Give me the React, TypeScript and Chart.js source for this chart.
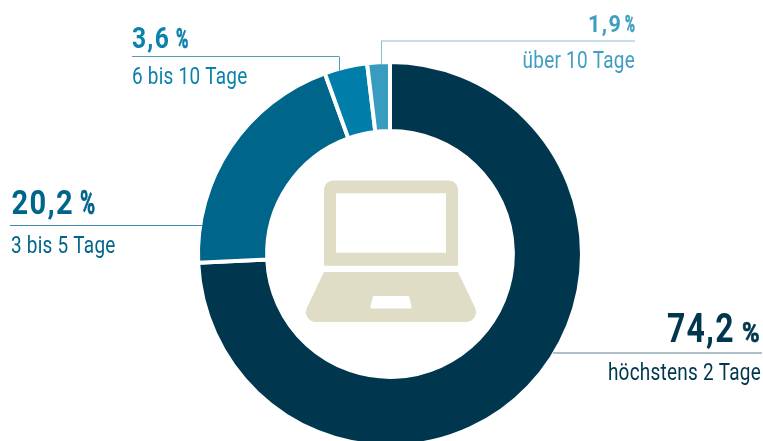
import { useEffect, useRef } from "react";
import { Chart, registerables } from "chart.js";

Chart.register(...registerables);

const categories = ["höchstens 2 Tage", "3 bis 5 Tage", "6 bis 10 Tage", "über 10 Tage"];
const shares = [74.2, 20.2, 3.6, 1.9];
const sliceColors = ["#00364E", "#00658A", "#007DA8", "#389BC0"];
const textColors = ["#00364E", "#00658A", "#0A82AC", "#3F9EC2"];
const ruleColors = ["#5F8294", "#3D8AA8", "#4FA0BE", "#85C0D6"];

const WIDTH = 763;
const HEIGHT = 441;
const CANVAS_HEIGHT = 448;
const FAMILY = 'Roboto, sans-serif';

type Callout = {
  nameAlign: "left" | "right";
  nameX: number;
  ruleY: number;
  ruleFrom: number;
  ruleTo: number;
  dropX?: number;
  dropTo?: number;
  numberX: number;
  numberSize: number;
  numberScale: number;
  percentX: number;
  percentSize: number;
  percentScale: number;
  valueBaseline: number;
  nameBaseline: number;
};

const NAME_SIZE = 24;
const NAME_SCALE = 0.79;

const callouts: Callout[] = [
  { nameAlign: "right", nameX: 761, ruleY: 353, ruleFrom: 553, ruleTo: 762, numberX: 667, numberSize: 40, numberScale: 0.8, percentX: 742, percentSize: 28, percentScale: 0.85, valueBaseline: 342, nameBaseline: 380 },
  { nameAlign: "left", nameX: 11, ruleY: 225.5, ruleFrom: 10, ruleTo: 203, numberX: 11.5, numberSize: 33, numberScale: 0.88, percentX: 80, percentSize: 33, percentScale: 0.62, valueBaseline: 214, nameBaseline: 253 },
  { nameAlign: "left", nameX: 132, ruleY: 56.5, ruleFrom: 132, ruleTo: 339, dropX: 339, dropTo: 71, numberX: 132, numberSize: 30, numberScale: 0.82, percentX: 176, percentSize: 28, percentScale: 0.6, valueBaseline: 48, nameBaseline: 84 },
  { nameAlign: "right", nameX: 635, ruleY: 41, ruleFrom: 381, ruleTo: 635, dropX: 381, dropTo: 64, numberX: 588, numberSize: 24, numberScale: 0.9, percentX: 625, percentSize: 23, percentScale: 0.58, valueBaseline: 32, nameBaseline: 68 },
];

const formatShare = (v: number) => v.toFixed(1).replace(".", ",");

function roundedPoly(ctx: CanvasRenderingContext2D, pts: [number, number, number][]) {
  const n = pts.length;
  ctx.moveTo((pts[n - 1][0] + pts[0][0]) / 2, (pts[n - 1][1] + pts[0][1]) / 2);
  pts.forEach((p, i) => {
    const next = pts[(i + 1) % n];
    ctx.arcTo(p[0], p[1], (p[0] + next[0]) / 2, (p[1] + next[1]) / 2, p[2]);
  });
  ctx.closePath();
}

// Laptop pictogram in the hole of the ring, placed relative to the ring's centre.
function drawLaptop(ctx: CanvasRenderingContext2D, cx: number, cy: number) {
  ctx.save();
  ctx.translate(cx, cy);
  ctx.fillStyle = "#E0DDC6";
  ctx.beginPath();
  roundedPoly(ctx, [
    [-66, -73.5, 9],
    [68, -73.5, 9],
    [68, 11.7, 0],
    [-66, 11.7, 0],
  ]);
  ctx.rect(-54, -60.7, 110, 59.4);
  ctx.fill("evenodd");
  ctx.beginPath();
  roundedPoly(ctx, [
    [-66, 18, 0],
    [68, 18, 0],
    [92, 68, 10],
    [-90, 68, 10],
  ]);
  roundedPoly(ctx, [
    [-17, 42, 1.5],
    [19, 42, 1.5],
    [22, 54.5, 1.5],
    [-20, 54.5, 1.5],
  ]);
  ctx.fill("evenodd");
  ctx.restore();
}

// Text is condensed horizontally around its own anchor.
function squeezedText(
  ctx: CanvasRenderingContext2D,
  text: string,
  x: number,
  y: number,
  scale: number,
  outline = 0,
) {
  ctx.save();
  ctx.translate(x, y);
  ctx.scale(scale, 1);
  if (outline > 0) {
    ctx.lineWidth = outline;
    ctx.lineJoin = "round";
    ctx.strokeStyle = ctx.fillStyle;
    ctx.strokeText(text, 0, 0);
  }
  ctx.fillText(text, 0, 0);
  ctx.restore();
}

const overlayPlugin = {
  id: "ringOverlay",
  afterDraw(chart: Chart) {
    const ctx = chart.ctx;
    const arc = chart.getDatasetMeta(0).data[0] as any;
    drawLaptop(ctx, arc.x, arc.y);

    callouts.forEach((c, i) => {
      ctx.save();
      ctx.strokeStyle = ruleColors[i];
      ctx.lineWidth = 1;
      ctx.beginPath();
      ctx.moveTo(c.ruleFrom, c.ruleY);
      ctx.lineTo(c.ruleTo, c.ruleY);
      if (c.dropX !== undefined && c.dropTo !== undefined) {
        ctx.moveTo(c.dropX + 0.5, c.ruleY);
        ctx.lineTo(c.dropX + 0.5, c.dropTo);
      }
      ctx.stroke();

      ctx.fillStyle = textColors[i];
      ctx.textBaseline = "alphabetic";
      ctx.textAlign = "left";

      (ctx as any).letterSpacing = "1.5px";
      ctx.font = `bold ${c.numberSize}px ${FAMILY}`;
      squeezedText(ctx, formatShare(shares[i]), c.numberX, c.valueBaseline, c.numberScale);

      (ctx as any).letterSpacing = "0px";
      ctx.font = `bold ${c.percentSize}px ${FAMILY}`;
      squeezedText(ctx, "%", c.percentX, c.valueBaseline, c.percentScale, 0.7);

      (ctx as any).letterSpacing = "0.3px";
      ctx.font = `${NAME_SIZE}px ${FAMILY}`;
      ctx.textAlign = c.nameAlign;
      squeezedText(ctx, categories[i], c.nameX, c.nameBaseline, NAME_SCALE);
      ctx.restore();
    });
  },
};

export default function App() {
  const canvasRef = useRef<HTMLCanvasElement | null>(null);

  useEffect(() => {
    if (!canvasRef.current) return;
    const chart = new Chart(canvasRef.current, {
      type: "doughnut",
      data: {
        labels: categories,
        datasets: [
          {
            data: shares,
            backgroundColor: sliceColors,
            borderColor: "#ffffff",
            borderWidth: 4,
          },
        ],
      },
      options: {
        responsive: false,
        animation: false,
        cutout: "64%",
        layout: { padding: { top: 60, bottom: 0, left: 196, right: 179 } },
        plugins: { legend: { display: false }, tooltip: { enabled: false } },
      },
      plugins: [overlayPlugin],
    });
    return () => chart.destroy();
  }, []);

  return (
    <div style={{ position: "fixed", left: 0, top: 0, width: WIDTH, height: HEIGHT, overflow: "hidden", background: "#fff" }}>
      <canvas ref={canvasRef} width={WIDTH} height={CANVAS_HEIGHT} style={{ display: "block" }} />
    </div>
  );
}
